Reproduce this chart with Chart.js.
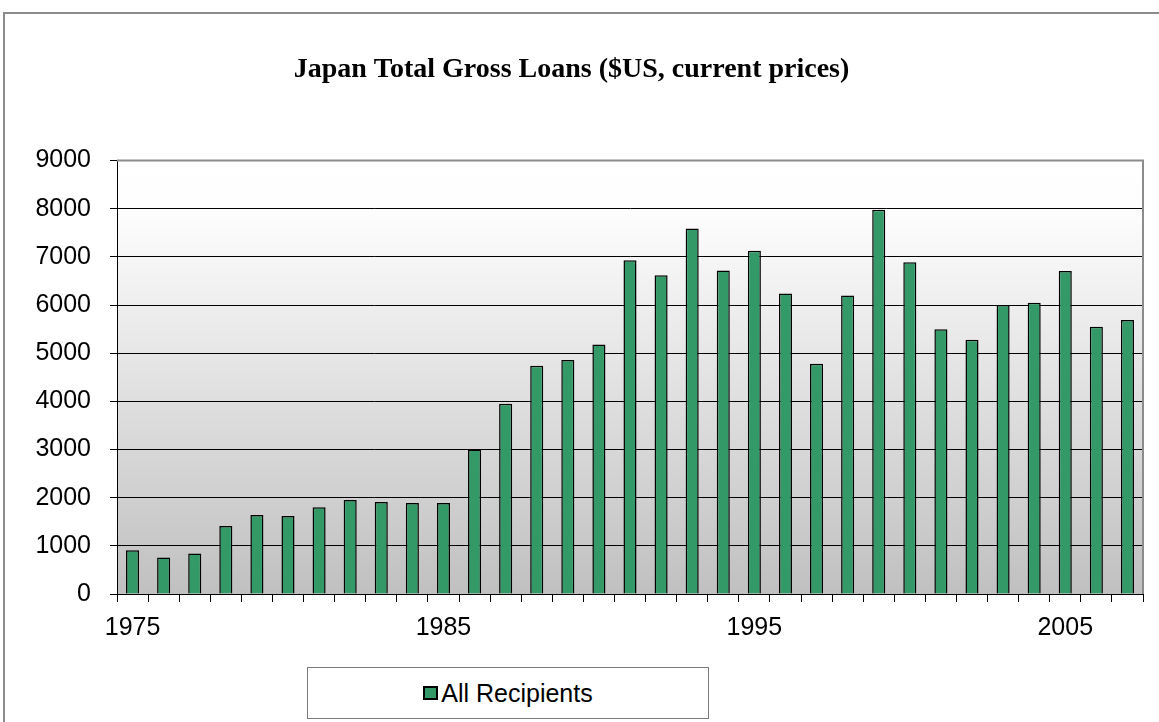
<!DOCTYPE html>
<html>
<head>
<meta charset="utf-8">
<script src="https://cdn.jsdelivr.net/npm/chart.js@4"></script>
<style>
  html, body { margin: 0; padding: 0; background: #fff; }
  #wrap { position: relative; width: 1159px; height: 722px; overflow: hidden; }
  #frame { position: absolute; left: 3px; top: 12px; width: 1200px; height: 800px;
           border-left: 2px solid #8c8c8c; border-top: 2px solid #8c8c8c; }
  #chart { position: absolute; left: 0; top: 0; }
  #legend { position: absolute; left: 307px; top: 667px; width: 400px; height: 50px;
            border: 1px solid #7a7a7a; background: #fff; display: flex;
            align-items: center; justify-content: center;
            font-family: Arial, "Liberation Sans", sans-serif; font-size: 25px; color: #000; }
  #legend .sw { display: inline-block; width: 11px; height: 10px; margin-right: 3px;
                border: 2px solid #000; }
</style>
</head>
<body>
<div id="wrap">
  <div id="frame"></div>
  <canvas id="chart" width="1159" height="722"></canvas>
  <div id="legend"></div>
</div>
<script>
// data
const years = [];
for (let y = 1975; y <= 2007; y++) years.push(String(y));
const loans = [910, 760, 840, 1410, 1640, 1620, 1800, 1950, 1910, 1890, 1890,
  3000, 3950, 4740, 4860, 5180, 6930, 6620, 7590, 6720, 7130, 6240, 4780,
  6200, 7980, 6890, 5500, 5280, 6000, 6050, 6710, 5550, 5690];
const shownYears = ['1975', '1985', '1995', '2005'];
const yTicks = [0, 1000, 2000, 3000, 4000, 5000, 6000, 7000, 8000, 9000];
const seriesName = 'All Recipients';
const barColor = '#339966';

// gradient background + grey frame of plot area
const plotBg = {
  id: 'plotBg',
  beforeDraw(chart) {
    const { ctx, chartArea: a } = chart;
    const g = ctx.createLinearGradient(0, a.top, 0, a.bottom);
    g.addColorStop(0, '#ffffff');
    g.addColorStop(0.12, '#fdfdfd');
    g.addColorStop(1, '#c0c0c0');
    ctx.save();
    ctx.fillStyle = g;
    ctx.fillRect(a.left, a.top, a.right - a.left, a.bottom - a.top);
    ctx.restore();
  },
  afterDatasetsDraw(chart) {
    const { ctx, chartArea: a } = chart;
    ctx.save();
    ctx.strokeStyle = '#8c8c8c';
    ctx.lineWidth = 2;
    ctx.beginPath();
    ctx.moveTo(a.left, a.top);
    ctx.lineTo(a.right, a.top);
    ctx.lineTo(a.right, a.bottom);
    ctx.stroke();
    ctx.restore();
  }
};

const ctx = document.getElementById('chart').getContext('2d');
new Chart(ctx, {
  type: 'bar',
  data: {
    labels: years,
    datasets: [{
      label: seriesName,
      data: loans,
      backgroundColor: barColor,
      borderColor: '#000000',
      borderWidth: 1.5,
      barPercentage: 0.42,
      categoryPercentage: 1
    }]
  },
  options: {
    responsive: false,
    animation: false,
    layout: { padding: { left: 0, right: 16, top: 0, bottom: 78 } },
    scales: {
      x: {
        grid: { offset: true, drawOnChartArea: false, drawTicks: true, tickLength: 8, tickColor: '#000', lineWidth: 1 },
        border: { color: '#000', width: 1 },
        ticks: {
          autoSkip: false, maxRotation: 0, padding: 11, color: '#000',
          font: { family: 'Arial, "Liberation Sans"', size: 25 },
          callback: function(v, i) { return shownYears.includes(years[i]) ? years[i] : ''; }
        },
        afterFit(scale) { scale.height = 50; }
      },
      y: {
        min: 0, max: 9000,
        afterBuildTicks(scale) { scale.ticks = yTicks.map(v => ({ value: v })); },
        grid: {
          color: (c) => (c.tick && c.tick.value === 9000) ? 'rgba(0,0,0,0)' : '#000',
          tickColor: '#000', tickLength: 7, lineWidth: 1
        },
        border: { color: '#000', width: 1 },
        ticks: {
          padding: 19, color: '#000',
          font: { family: 'Arial, "Liberation Sans"', size: 25 },
          callback: (v) => String(v)
        },
        afterFit(scale) { scale.width = 117; }
      }
    },
    plugins: {
      legend: { display: false },
      tooltip: { enabled: false },
      title: {
        display: true,
        text: 'Japan Total Gross Loans ($US, current prices)',
        color: '#000',
        font: { family: '"Liberation Serif", "Times New Roman", serif', size: 28, weight: 'bold' },
        padding: { top: 53, bottom: 74 }
      }
    }
  },
  plugins: [plotBg]
});

// legend kept as html box below the chart
const lg = document.getElementById('legend');
const sw = document.createElement('span');
sw.className = 'sw';
sw.style.background = barColor;
lg.appendChild(sw);
lg.appendChild(document.createTextNode(seriesName));
</script>
</body>
</html>
